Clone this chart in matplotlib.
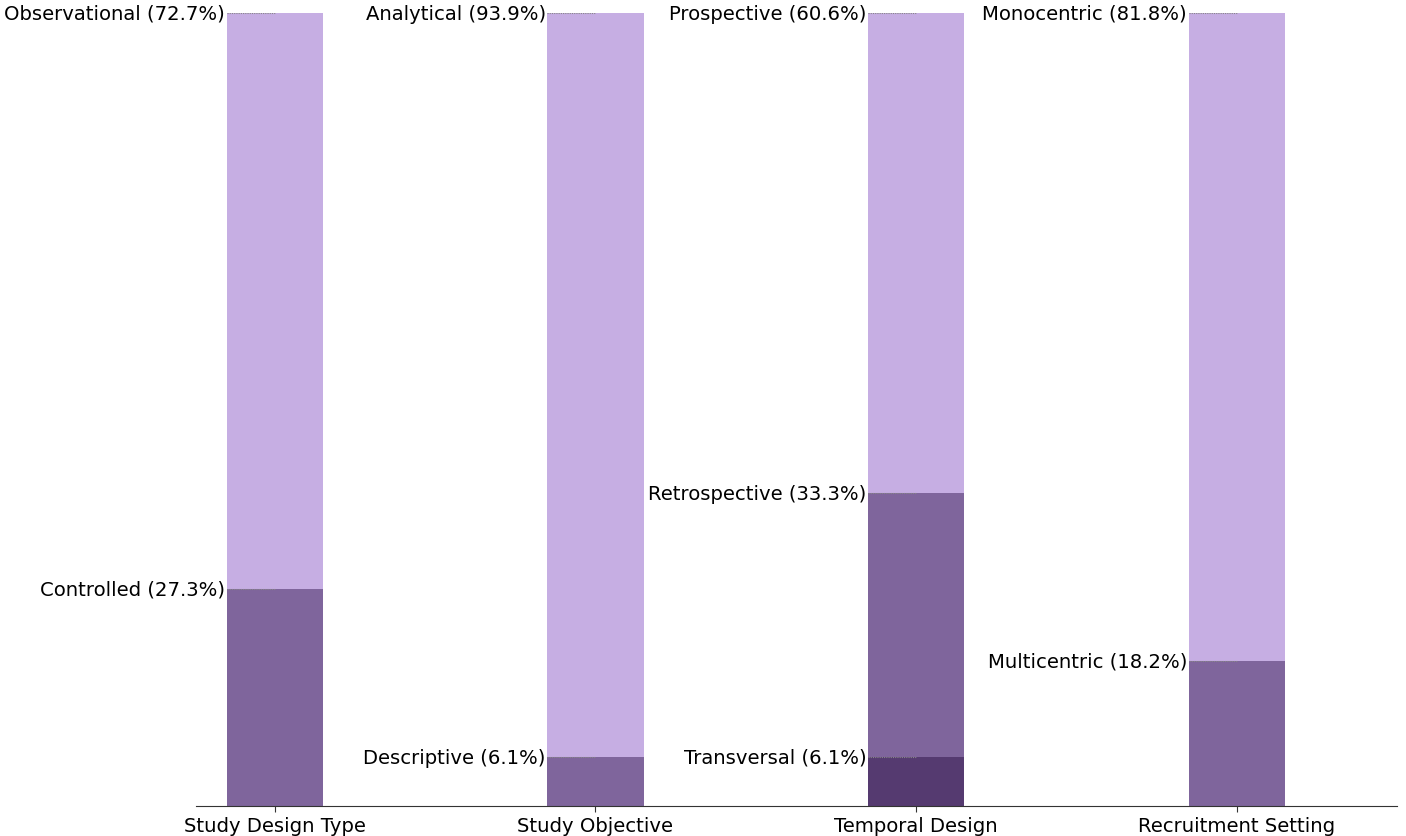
import matplotlib
matplotlib.use("Agg")
import matplotlib.pyplot as plt

categories = ["Study Design Type", "Study Objective", "Temporal Design", "Recruitment Setting"]
# segments listed bottom -> top
seg_labels = [
    ["Controlled", "Observational"],
    ["Descriptive", "Analytical"],
    ["Transversal", "Retrospective", "Prospective"],
    ["Multicentric", "Monocentric"],
]
seg_values = [
    [27.3, 72.7],
    [6.1, 93.9],
    [6.1, 33.3, 60.6],
    [18.2, 81.8],
]

light = "#C6AEE3"
mid = "#7F659C"
dark = "#553A70"
palette_from_top = [light, mid, dark]

fig = plt.figure(figsize=(14.06, 8.37), dpi=100)
ax = fig.add_axes([196/1406, 30.5/837, (1397-196)/1406, (806.5-14)/837])

bw = 0.3
for i, (labs, vals) in enumerate(zip(seg_labels, seg_values)):
    bottom = 0.0
    n = len(vals)
    for j, (lab, v) in enumerate(zip(labs, vals)):
        color = palette_from_top[n - 1 - j]
        ax.bar(i, v, bw, bottom=bottom, color=color, edgecolor="none")
        top = bottom + v
        ax.plot([i - bw/2, i], [top, top], color="#888888", lw=0.8, ls=(0, (1, 1)))
        ax.text(i - bw/2 - 0.005, top, f"{lab} ({v:.1f}%)", ha="right", va="center",
                fontsize=14.1, color="black")
        bottom = top

ax.set_xlim(-0.246, 3.5)
ax.set_ylim(0, 100)
ax.set_xticks(range(len(categories)))
ax.set_xticklabels(categories, fontsize=14.1)
ax.set_yticks([])
for s in ["left", "top", "right"]:
    ax.spines[s].set_visible(False)
ax.spines["bottom"].set_color("#333333")
ax.tick_params(axis="x", length=4, color="#333333")

fig.savefig("out.png", dpi=100)
